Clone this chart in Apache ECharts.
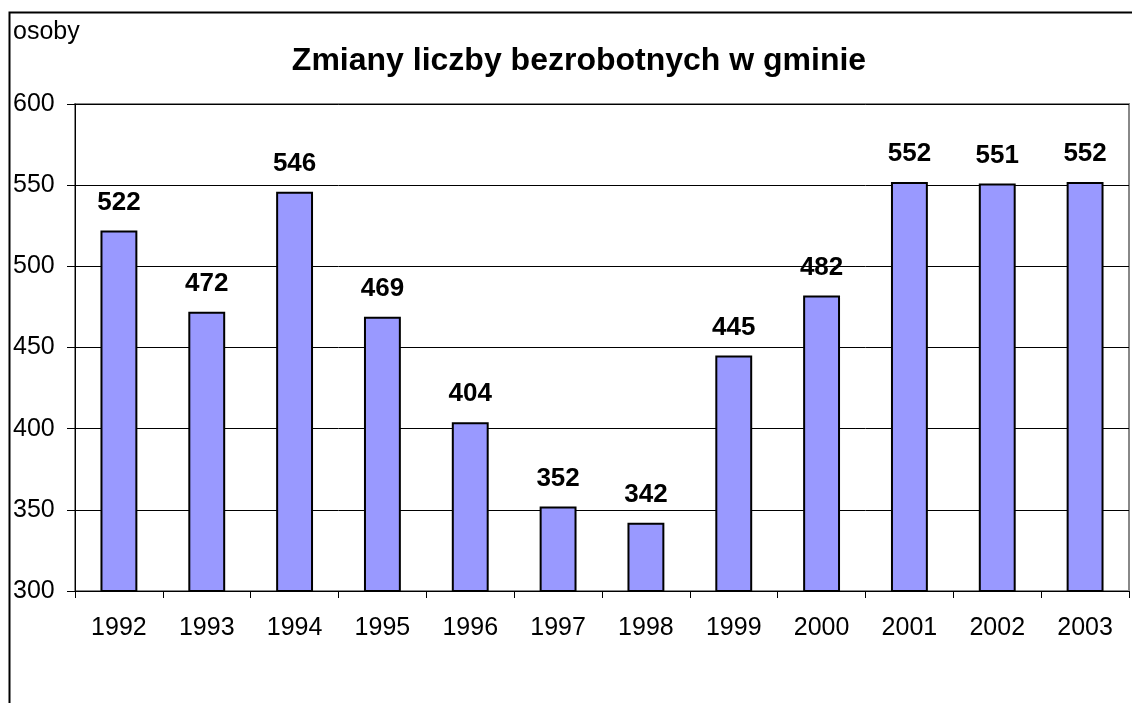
<!DOCTYPE html>
<html>
<head>
<meta charset="utf-8">
<script src="https://cdn.jsdelivr.net/npm/echarts@6/dist/echarts.min.js"></script>
<style>
    html, body { margin: 0; padding: 0; background: #fff; }
    #chart { width: 1132px; height: 703px; }
</style>
</head>
<body>
<div id="chart"></div>
<script>
// dane z wykresu
var lata = ['1992', '1993', '1994', '1995', '1996', '1997', '1998', '1999', '2000', '2001', '2002', '2003'];
var bezrobotni = [522, 472, 546, 469, 404, 352, 342, 445, 482, 552, 551, 552];
var osY = {min: 300, max: 600, interval: 50};

var myChart = echarts.init(document.getElementById('chart'));
var font = 'Arial, "Liberation Sans", sans-serif';

var option = {
    animation: false,
    backgroundColor: '#fff',
    title: {
        text: 'Zmiany liczby bezrobotnych w gminie',
        left: 574,
        textAlign: 'center',
        top: 40,
        textStyle: {fontFamily: font, fontSize: 32, fontWeight: 'bold', color: '#000'}
    },
    graphic: [
        {
            // ramka wykresu
            type: 'rect',
            shape: {x: 9.5, y: 12.5, width: 1300, height: 1000},
            style: {fill: null, stroke: '#000', lineWidth: 2},
            silent: true
        },
        {
            type: 'text',
            left: 13,
            top: 20,
            style: {text: 'osoby', font: '25px ' + font, fill: '#000'}
        }
    ],
    grid: {
        left: 75,
        right: 3,
        top: 104,
        bottom: 112,
        show: true,
        borderColor: '#888',
        borderWidth: 2,
        containLabel: false
    },
    xAxis: {
        type: 'category',
        data: lata,
        axisLine: {lineStyle: {color: '#000', width: 1}},
        axisTick: {show: true, length: 7, lineStyle: {color: '#000'}},
        axisLabel: {color: '#000', fontFamily: font, fontSize: 25, margin: 25},
        splitLine: {show: false}
    },
    yAxis: {
        type: 'value',
        min: osY.min,
        max: osY.max,
        interval: osY.interval,
        axisLine: {show: true, lineStyle: {color: '#000', width: 1}},
        axisTick: {show: true, length: 8, lineStyle: {color: '#000'}},
        axisLabel: {color: '#000', fontFamily: font, fontSize: 25, margin: 62, align: 'left'},
        splitLine: {show: true, lineStyle: {color: '#000', width: 1}}
    },
    series: [
        {
            name: 'osoby',
            type: 'bar',
            data: bezrobotni,
            barWidth: '42%',
            itemStyle: {color: '#9999ff', borderColor: '#000', borderWidth: 2},
            label: {
                show: true,
                position: 'top',
                distance: 15,
                color: '#000',
                fontFamily: font,
                fontSize: 26,
                fontWeight: 'bold'
            }
        }
    ]
};

myChart.setOption(option);
</script>
</body>
</html>
